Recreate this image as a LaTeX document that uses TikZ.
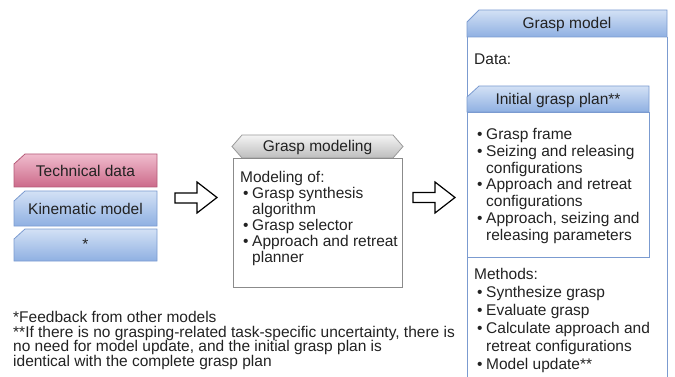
\documentclass[tikz,border=0pt]{standalone}
\usepackage{fontspec}
\setmainfont{Liberation Sans}
\definecolor{pinktop}{HTML}{F0BCCD}
\definecolor{pinkbot}{HTML}{CC6A8A}
\definecolor{pinkline}{HTML}{B45A78}
\definecolor{bluetop}{HTML}{D3E1F5}
\definecolor{bluebot}{HTML}{8FB0E2}
\definecolor{blueline}{HTML}{7B9BD0}
\definecolor{graytop}{HTML}{F4F4F4}
\definecolor{graybot}{HTML}{BDBDBD}
\definecolor{grayline}{HTML}{9A9A9A}
\definecolor{ink}{HTML}{222222}
\newcommand\itm[1]{\hspace*{3pt}\makebox[9pt][l]{•}#1}
\newcommand\cont[1]{\hspace*{12pt}#1}
\tikzset{
  pinkhead/.style={draw=pinkline, top color=pinktop, bottom color=pinkbot, line width=0.8pt},
  bluehead/.style={draw=blueline, top color=bluetop, bottom color=bluebot, line width=0.8pt},
  grayhead/.style={draw=grayline, top color=graytop, bottom color=graybot, line width=0.8pt},
  panel/.style={line width=0.8pt},
  blockarrow/.style={draw=black, fill=white, line width=1.2pt, line join=miter},
  label/.style={inner sep=0pt, text=ink, font=\fontsize{15.5}{17}\selectfont},
  txt/.style={inner sep=0pt, text=ink, anchor=north west, align=left},
}
\begin{document}
\begin{tikzpicture}[x=1pt, y=-1pt]
\useasboundingbox (0,0) rectangle (675,377);

% input models on the left
\path[pinkhead] (14,164) -- (25,154) -- (157,154) -- (157,187) -- (14,187) -- cycle;
\node[label] (tech) at (85.5,171) {Technical data};
\path[bluehead] (14,201) -- (25,191) -- (157,191) -- (157,226) -- (14,226) -- cycle;
\node[label] (kin) at (85.5,209) {Kinematic model};
\path[bluehead] (14,239) -- (25,229) -- (157,229) -- (157,261) -- (14,261) -- cycle;
\node[label] (fb) at (85.5,244) {*};

% first block arrow
\path[blockarrow] (175,193) -- (197,193) -- (197,182) -- (217,197.5) -- (197,213) -- (197,203) -- (175,203) -- cycle;

% grasp modeling
\path[grayhead] (232,146.5) -- (242,135) -- (393,135) -- (403,146.5) -- (393,158) -- (242,158) -- cycle;
\node[label] (gmtitle) at (317.5,147) {Grasp modeling};
\draw[panel, draw=grayline!90!black] (233,158) rectangle (402,287);
\node[txt, font=\fontsize{15.5}{16}\selectfont] (gmbody) at (240,171) {%
Modeling of:\\
\itm{Grasp synthesis}\\
\cont{algorithm}\\
\itm{Grasp selector}\\
\itm{Approach and retreat}\\
\cont{planner}};

% second block arrow
\path[blockarrow] (413,192.5) -- (435,192.5) -- (435,182) -- (455,197.5) -- (435,213) -- (435,202.5) -- (413,202.5) -- cycle;

% grasp model
\path[bluehead] (467,22) -- (479,10) -- (667,10) -- (667,37) -- (467,37) -- cycle;
\node[label] (gtitle) at (567,24) {Grasp model};
\draw[panel, draw=blueline] (467,37) -- (467,377);
\draw[panel, draw=blueline] (667,37) -- (667,377);
\node[txt, font=\fontsize{15.5}{17}\selectfont] (data) at (474,54) {Data:};

\path[bluehead] (467,97) -- (479,86) -- (649,86) -- (649,112) -- (467,112) -- cycle;
\node[label] (ptitle) at (558,100) {Initial grasp plan**};
\draw[panel, draw=blueline] (467,112) rectangle (649,257);
\node[txt, font=\fontsize{15.5}{16.8}\selectfont] (pbody) at (474,128) {%
\itm{Grasp frame}\\
\itm{Seizing and releasing}\\
\cont{configurations}\\
\itm{Approach and retreat}\\
\cont{configurations}\\
\itm{Approach, seizing and}\\
\cont{releasing parameters}};

\node[txt, font=\fontsize{15.5}{18}\selectfont] (methods) at (474,268) {%
Methods:\\
\itm{Synthesize grasp}\\
\itm{Evaluate grasp}\\
\itm{Calculate approach and}\\
\cont{retreat configurations}\\
\itm{Model update**}};

% footnotes
\node[txt, font=\fontsize{15.5}{14.7}\selectfont] (notes) at (13,311) {%
*Feedback from other models\\
**If there is no grasping-related task-specific uncertainty, there is\\
no need for model update, and the initial grasp plan is\\
identical with the complete grasp plan};
\end{tikzpicture}
\end{document}
